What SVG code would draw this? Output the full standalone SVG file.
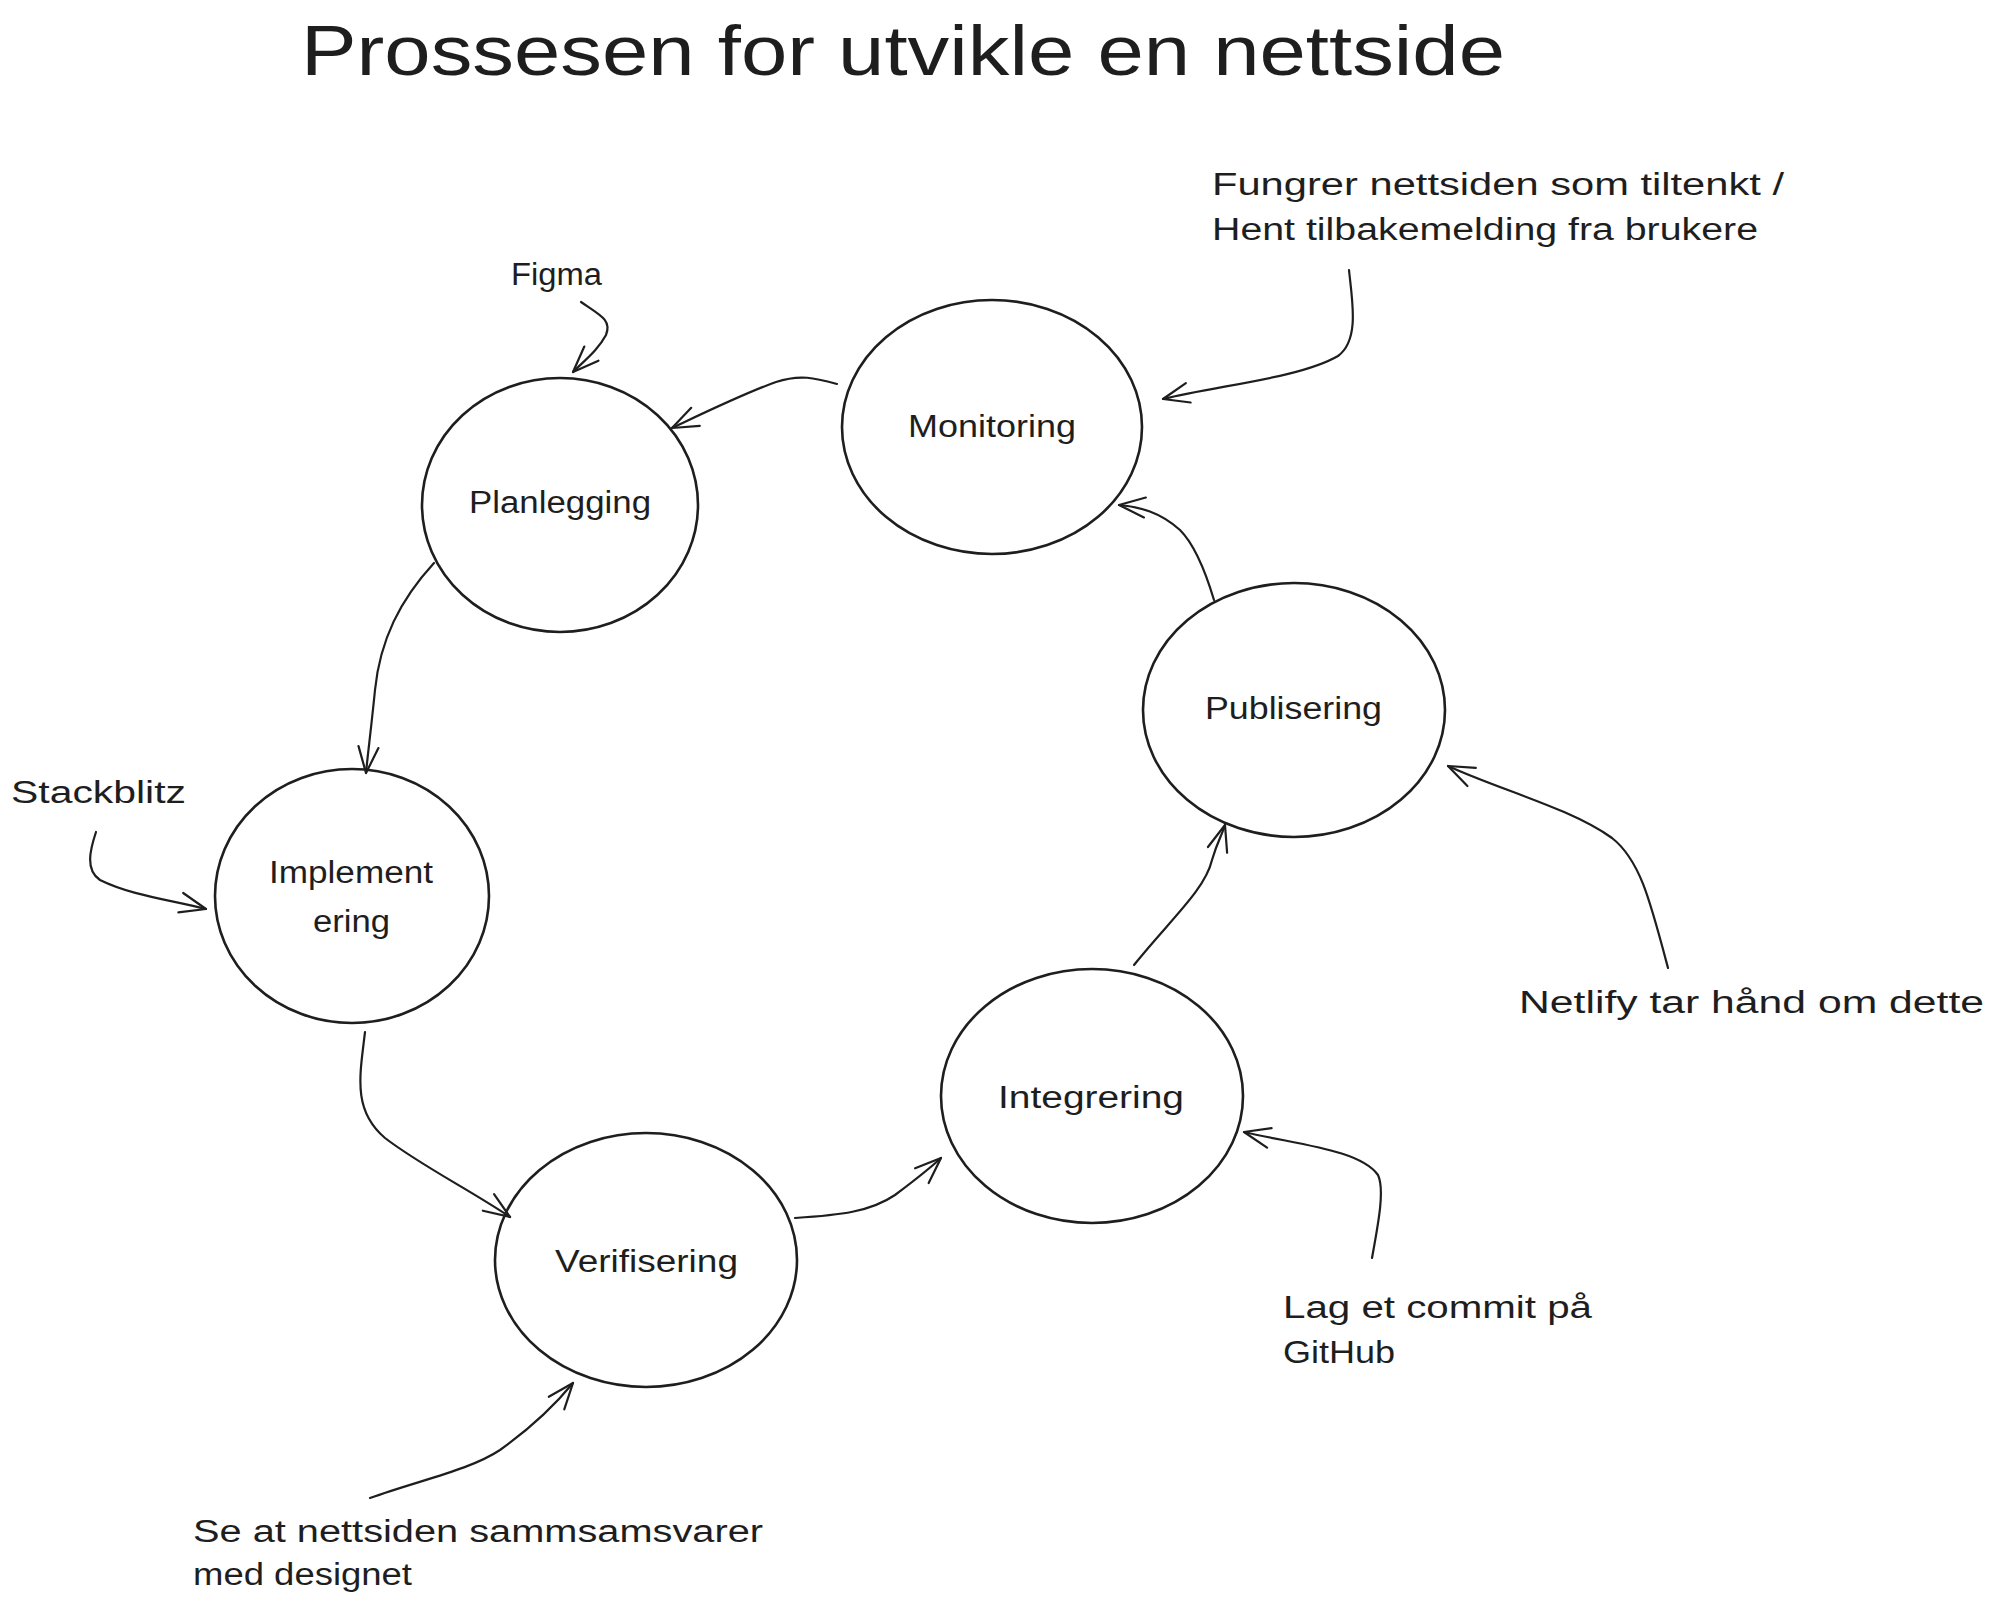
<svg xmlns="http://www.w3.org/2000/svg" width="1994" height="1608" viewBox="0 0 1994 1608">
<style>
.bg{fill:#ffffff}
.node{fill:none;stroke:#1e1e1e;stroke-width:2.6}
.lbl{font-family:"Liberation Sans",Arial,sans-serif;font-size:31px;fill:#1e1e1e}
.title{font-family:"Liberation Sans",Arial,sans-serif;font-size:70px;fill:#1e1e1e}
.conn{fill:none;stroke:#1e1e1e;stroke-width:2.2;stroke-linecap:round;marker-end:url(#ah)}
</style>
<defs>
<marker id="ah" markerWidth="32" markerHeight="32" refX="28" refY="16" orient="auto" markerUnits="userSpaceOnUse" overflow="visible">
<path d="M2,6 L28,16 L2,26" fill="none" stroke="#1e1e1e" stroke-width="2.2" stroke-linecap="round" stroke-linejoin="round"/>
</marker>
</defs>
<rect class="bg" x="0" y="0" width="1994" height="1608"/>
<text class="title" x="301" y="75" textLength="1204" lengthAdjust="spacingAndGlyphs">Prossesen for utvikle en nettside</text>

<g id="connectors">
<path class="conn" d="M837 384 C815 378 800 374 776 382 C745 393 710 410 672 428"/>
<path class="conn" d="M434 563 C400 600 380 640 375 690 C371 730 368 752 366 773"/>
<path class="conn" d="M365 1032 C360 1075 352 1110 385 1138 C420 1165 470 1190 510 1217"/>
<path class="conn" d="M795 1218 C840 1215 870 1212 895 1195 C915 1180 928 1170 941 1158"/>
<path class="conn" d="M1134 965 C1170 920 1205 890 1212 860 C1218 840 1222 835 1225 825"/>
<path class="conn" d="M1214 600 C1205 570 1195 545 1180 530 C1160 512 1140 507 1119 505"/>
<path class="conn" d="M581 302 C600 315 612 320 606 335 C598 350 585 360 573 372"/>
<path class="conn" d="M1349 270 C1352 300 1360 340 1338 356 C1300 378 1220 385 1163 399"/>
<path class="conn" d="M96 832 C90 850 85 870 100 880 C130 895 170 900 206 909"/>
<path class="conn" d="M1668 968 C1650 900 1640 860 1612 838 C1570 808 1500 790 1448 766"/>
<path class="conn" d="M1372 1258 C1378 1225 1385 1190 1378 1175 C1360 1150 1300 1145 1244 1132"/>
<path class="conn" d="M370 1498 C420 1480 470 1470 500 1450 C535 1425 555 1405 573 1383"/>
</g>

<g id="node-monitoring">
<ellipse class="node" cx="992" cy="427" rx="150" ry="127"/>
<text class="lbl" x="908" y="437" textLength="168" lengthAdjust="spacingAndGlyphs">Monitoring</text>
</g>
<g id="node-planlegging">
<ellipse class="node" cx="560" cy="505" rx="138" ry="127"/>
<text class="lbl" x="469" y="513" textLength="182" lengthAdjust="spacingAndGlyphs">Planlegging</text>
</g>
<g id="node-implementering">
<ellipse class="node" cx="352" cy="896" rx="137" ry="127"/>
<text class="lbl" x="269" y="883" textLength="164" lengthAdjust="spacingAndGlyphs">Implement</text>
<text class="lbl" x="313" y="932" textLength="77" lengthAdjust="spacingAndGlyphs">ering</text>
</g>
<g id="node-verifisering">
<ellipse class="node" cx="646" cy="1260" rx="151" ry="127"/>
<text class="lbl" x="555" y="1272" textLength="183" lengthAdjust="spacingAndGlyphs">Verifisering</text>
</g>
<g id="node-integrering">
<ellipse class="node" cx="1092" cy="1096" rx="151" ry="127"/>
<text class="lbl" x="998" y="1108" textLength="186" lengthAdjust="spacingAndGlyphs">Integrering</text>
</g>
<g id="node-publisering">
<ellipse class="node" cx="1294" cy="710" rx="151" ry="127"/>
<text class="lbl" x="1205" y="719" textLength="177" lengthAdjust="spacingAndGlyphs">Publisering</text>
</g>

<g id="note-figma">
<text class="lbl" x="511" y="285" textLength="91" lengthAdjust="spacingAndGlyphs">Figma</text>
</g>
<g id="note-fungrer">
<text class="lbl" x="1212" y="195" textLength="572" lengthAdjust="spacingAndGlyphs">Fungrer nettsiden som tiltenkt /</text>
<text class="lbl" x="1212" y="240" textLength="546" lengthAdjust="spacingAndGlyphs">Hent tilbakemelding fra brukere</text>
</g>
<g id="note-stackblitz">
<text class="lbl" x="11" y="803" textLength="175" lengthAdjust="spacingAndGlyphs">Stackblitz</text>
</g>
<g id="note-netlify">
<text class="lbl" x="1519" y="1013" textLength="465" lengthAdjust="spacingAndGlyphs">Netlify tar hånd om dette</text>
</g>
<g id="note-github">
<text class="lbl" x="1283" y="1318" textLength="309" lengthAdjust="spacingAndGlyphs">Lag et commit på</text>
<text class="lbl" x="1283" y="1363" textLength="112" lengthAdjust="spacingAndGlyphs">GitHub</text>
</g>
<g id="note-design">
<text class="lbl" x="193" y="1542" textLength="570" lengthAdjust="spacingAndGlyphs">Se at nettsiden sammsamsvarer</text>
<text class="lbl" x="193" y="1585" textLength="219" lengthAdjust="spacingAndGlyphs">med designet</text>
</g>
</svg>
